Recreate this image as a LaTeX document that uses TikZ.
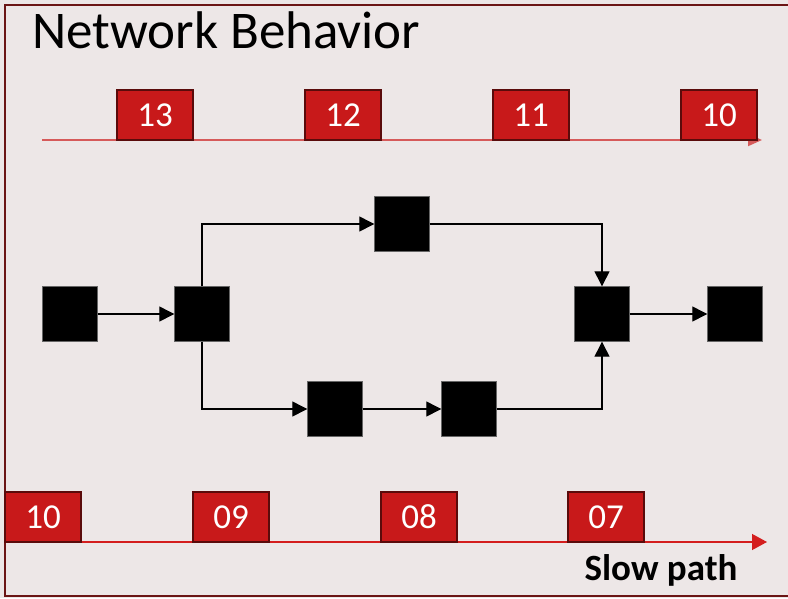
\documentclass[tikz,border=0pt]{standalone}
\usepackage{fontspec}
\setmainfont{Carlito}
\usetikzlibrary{arrows.meta,positioning}
\definecolor{slidebg}{HTML}{EDE7E7}
\definecolor{frame}{HTML}{6B1515}
\definecolor{pktred}{HTML}{C8191A}
\definecolor{pktedge}{HTML}{5A0B0B}
\definecolor{fastline}{HTML}{D65A5A}
\definecolor{slowline}{HTML}{D41E1E}
\tikzset{
  pkt/.style={draw=pktedge,line width=2pt,fill=pktred,text=white,
    minimum width=76pt,minimum height=50pt,inner sep=0pt,
    font=\fontsize{35}{37}\selectfont},
  hop/.style={draw=black!60,fill=black,minimum size=55pt,inner sep=0pt},
  link/.style={line width=1.3pt,-{Triangle[length=15pt,width=15pt]}}
}
\begin{document}
\begin{tikzpicture}[x=1pt,y=-1pt]
\useasboundingbox (0,0) rectangle (788,598);
\fill[slidebg] (0,0) rectangle (788,598);
\draw[frame,line width=2pt] (788,5) -- (5,5) -- (5,596) -- (788,596);
% title
\node[anchor=base west,inner sep=0pt,font=\fontsize{53}{56}\selectfont] (title) at (32,48) {Network Behavior};

% fast path packets
\coordinate (fs) at (42,140);
\coordinate (fe) at (762,140);
\draw[fastline,line width=2pt,-{Triangle[length=14pt,width=12pt]}] (fs) -- (fe);
\node[pkt] (p13) at (155,115) {13};
\node[pkt] (p12) at (343,115) {12};
\node[pkt] (p11) at (531,115) {11};
\node[pkt] (p10) at (719,115) {10};

% switches
\node[hop] (n1) at (70,314) {};
\node[hop] (n2) at (202,314) {};
\node[hop] (up) at (402,224) {};
\node[hop] (lo1) at (335,409) {};
\node[hop] (lo2) at (469,409) {};
\node[hop] (mg) at (602,314) {};
\node[hop] (out) at (735,314) {};
\draw[link] (n1) -- (n2);
\draw[link] (n2.north) |- (up.west);
\draw[link] (n2.south) |- (lo1.west);
\draw[link] (lo1) -- (lo2);
\draw[link] (up.east) -| (mg.north);
\draw[link] (lo2.east) -| (mg.south);
\draw[link] (mg) -- (out);

% slow path packets
\coordinate (ss) at (5,542);
\coordinate (se) at (767,542);
\draw[slowline,line width=1.3pt,-{Triangle[length=15pt,width=16pt]}] (ss) -- (se);
\node[pkt] (q10) at (43,517) {10};
\node[pkt] (q09) at (231,517) {09};
\node[pkt] (q08) at (419,517) {08};
\node[pkt] (q07) at (606,517) {07};
\node[anchor=base,inner sep=0pt,font=\bfseries\fontsize{37}{40}\selectfont] (slow) at (661,580) {Slow path};
\end{tikzpicture}
\end{document}
